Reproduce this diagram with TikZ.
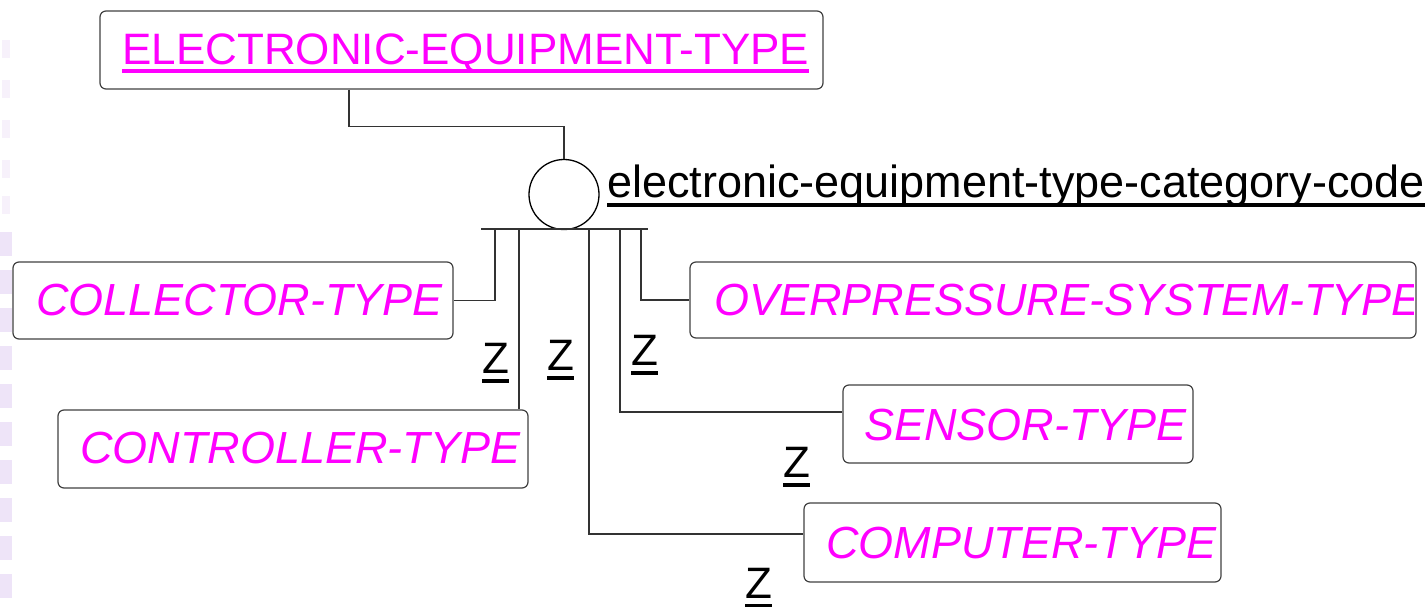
\documentclass[tikz,border=0pt]{standalone}
\usepackage{fontspec}
\setmainfont{Liberation Sans}
\definecolor{mag}{RGB}{255,0,255}
\definecolor{lav}{RGB}{238,228,248}
\begin{document}
\begin{tikzpicture}[x=1pt,y=-1pt,
  box/.style={draw=black!75, line width=1.2pt, rounded corners=6pt, inner sep=0pt},
  lbl/.style={inner sep=0pt, anchor=base west, font=\fontsize{45}{50}\selectfont},
  ent/.style={lbl, text=mag, font=\fontsize{45}{50}\selectfont\itshape},
  conn/.style={draw=black!80, line width=1.3pt},
  ul/.style={line width=3.5pt},
  zl/.style={lbl, text=black, font=\fontsize{44}{50}\selectfont}]
\useasboundingbox (0,0) rectangle (1426,607);
% faint decorative strip at the left edge
\foreach \yy in {232,270,308,346,384,422,460,498,536,574}
  \fill[lav] (0,\yy) rectangle (12,\yy+24);
\foreach \yy in {40,80,120,160,196}
  \fill[lav!50] (2,\yy) rectangle (10,\yy+18);

% boxes
\node[box, minimum width=723pt, minimum height=78pt] (top) at (461.5,50) {};
\node[box, minimum width=440pt, minimum height=77pt] (coll) at (233,300.5) {};
\node[box, minimum width=470pt, minimum height=78pt] (ctrl) at (293,449) {};
\node[box, minimum width=726pt, minimum height=76pt] (over) at (1053,300) {};
\node[box, minimum width=350pt, minimum height=78pt] (sens) at (1018,424) {};
\node[box, minimum width=417pt, minimum height=79pt] (comp) at (1012.5,542.5) {};

% texts
\node[lbl, text=mag, font=\fontsize{44}{50}\selectfont] (tt) at (122,65) {ELECTRONIC-EQUIPMENT-TYPE};
\draw[ul, mag] ([yshift=-6pt]tt.base west) -- ([yshift=-6pt]tt.base east);
\node[ent] (tcoll) at (36,315) {COLLECTOR-TYPE};
\node[ent] (tctrl) at (80,463) {CONTROLLER-TYPE};
\begin{scope}
  \clip (over.south west) rectangle ([xshift=-3pt]over.north east);
  \node[ent] (tover) at (714,315) {OVERPRESSURE-SYSTEM-TYPE};
\end{scope}
\node[ent] (tsens) at (864,440) {SENSOR-TYPE};
\node[ent] (tcomp) at (826,558) {COMPUTER-TYPE};

% circle and category code
\node[draw=black, line width=1.3pt, circle, minimum size=70pt, inner sep=0pt] (c) at (564,194.5) {};
\node[lbl, text=black] (code) at (607,197) {electronic-equipment-type-category-code};
\draw[ul, black] ([yshift=-8pt]code.base west) -- ([yshift=-8pt]code.base east);

% bar and taps
\coordinate (barL) at (481,229);
\coordinate (barR) at (648,229);
\coordinate (t1) at (495,229);
\coordinate (t2) at (519,229);
\coordinate (t3) at (589,229);
\coordinate (t4) at (620,229);
\coordinate (t5) at (641,229);
\draw[conn] (barL) -- (barR);

% connectors
\draw[conn] ([xshift=-112.5pt]top.south) -- ++(0,37) -| (c.north);
\draw[conn] (t1) |- (coll.east);
\draw[conn] (t2) -- (t2 |- ctrl.north);
\draw[conn] (t3) |- ([yshift=8.5pt]comp.west);
\draw[conn] (t4) |- ([yshift=12pt]sens.west);
\draw[conn] (t5) |- (over.west);

% Z labels
\foreach \n/\xx/\yy in {z1/482/373, z2/547/370, z3/631/365, z4/783/477, z5/745/598}{
  \node[zl] (\n) at (\xx,\yy) {Z};
  \draw[ul, black] ([yshift=-8pt]\n.base west) -- ([yshift=-8pt]\n.base east);
}
\end{tikzpicture}
\end{document}
